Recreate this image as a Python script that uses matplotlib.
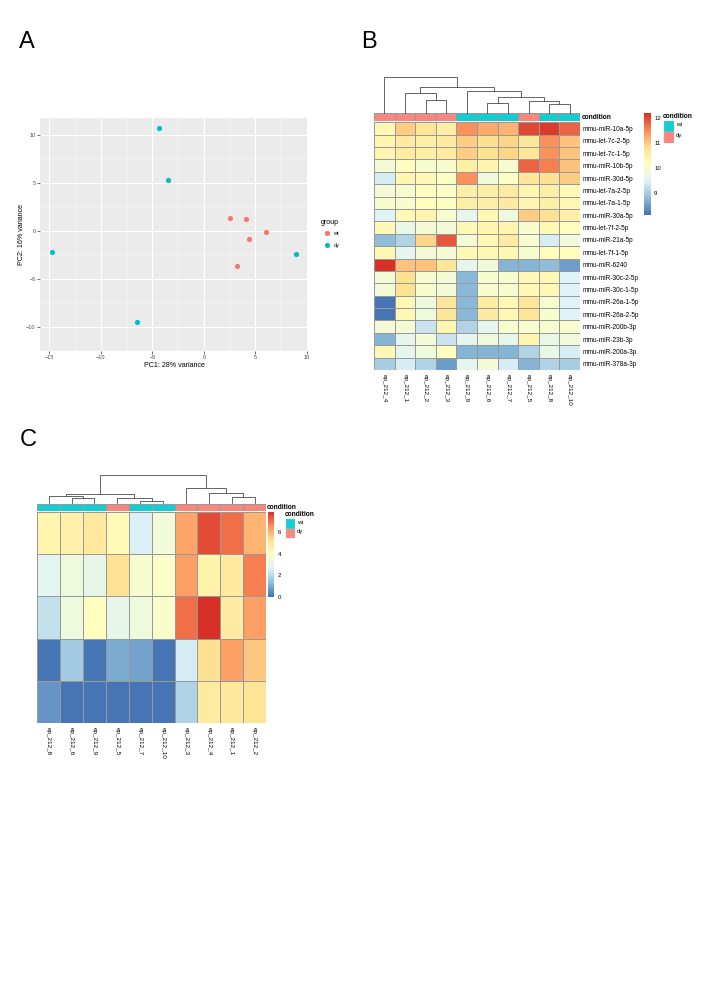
import numpy as np
import matplotlib
matplotlib.use('Agg')
import matplotlib.pyplot as plt
from matplotlib.colors import LinearSegmentedColormap, ListedColormap, Normalize
from matplotlib.patches import Rectangle
from matplotlib.lines import Line2D

plt.rcParams['font.family'] = ['Liberation Sans', 'DejaVu Sans']

# ---------------- data ----------------
# Panel A (PCA)
pc1_wt = [2.58, 4.13, 6.06, 4.42, 3.19]
pc2_wt = [1.31, 1.28, -0.16, -0.87, -3.62]
pc1_dy = [-14.73, -4.31, -3.51, 8.93, -6.48]
pc2_dy = [-2.24, 10.77, 5.36, -2.40, -9.52]
pca_xticks = [-15, -10, -5, 0, 5, 10]
pca_yticks = [-10, -5, 0, 5, 10]
pca_xlabel = 'PC1: 28% variance'
pca_ylabel = 'PC2: 16% variance'
group_labels = ['wt', 'dy']

# Panel B heatmap
b_cols = ['ep_212_4', 'ep_212_1', 'ep_212_2', 'ep_212_3', 'ep_212_9',
          'ep_212_6', 'ep_212_7', 'ep_212_5', 'ep_212_8', 'ep_212_10']
b_condition = ['dy', 'dy', 'dy', 'dy', 'wt', 'wt', 'wt', 'dy', 'wt', 'wt']
b_rows = ['mmu-miR-10a-5p', 'mmu-let-7c-2-5p', 'mmu-let-7c-1-5p', 'mmu-miR-10b-5p',
          'mmu-miR-30d-5p', 'mmu-let-7a-2-5p', 'mmu-let-7a-1-5p', 'mmu-miR-30a-5p',
          'mmu-let-7f-2-5p', 'mmu-miR-21a-5p', 'mmu-let-7f-1-5p', 'mmu-miR-6240',
          'mmu-miR-30c-2-5p', 'mmu-miR-30c-1-5p', 'mmu-miR-26a-1-5p', 'mmu-miR-26a-2-5p',
          'mmu-miR-200b-3p', 'mmu-miR-23b-3p', 'mmu-miR-200a-3p', 'mmu-miR-378a-3p']
b_values = [
    [10.3, 11.0, 10.7, 10.5, 11.5, 11.3, 11.2, 12.0, 12.1, 11.8],
    [10.4, 10.6, 10.5, 10.6, 11.0, 10.8, 10.9, 10.7, 11.5, 11.1],
    [10.4, 10.6, 10.5, 10.6, 11.0, 10.8, 10.9, 10.7, 11.5, 11.1],
    [9.9, 10.2, 10.0, 10.0, 10.5, 10.4, 10.0, 11.8, 11.6, 11.1],
    [9.4, 10.4, 10.3, 10.1, 11.5, 9.8, 10.1, 10.7, 10.8, 11.0],
    [9.9, 10.0, 10.2, 10.1, 10.5, 10.5, 10.6, 10.4, 10.5, 10.3],
    [10.0, 10.0, 10.2, 10.1, 10.5, 10.5, 10.6, 10.4, 10.5, 10.3],
    [9.5, 10.3, 10.4, 10.0, 9.6, 10.3, 9.8, 11.0, 10.8, 10.5],
    [10.3, 9.7, 9.9, 9.9, 10.3, 10.4, 10.4, 10.0, 10.3, 10.2],
    [8.8, 9.1, 10.9, 11.9, 9.9, 10.3, 10.6, 10.0, 9.4, 9.8],
    [10.3, 9.6, 9.9, 9.9, 10.3, 10.3, 10.3, 10.0, 10.2, 10.2],
    [12.2, 11.1, 11.1, 10.7, 9.6, 9.8, 8.7, 8.7, 8.8, 8.5],
    [9.9, 10.8, 10.0, 9.9, 8.75, 10.0, 10.0, 10.3, 10.3, 9.5],
    [9.9, 10.8, 10.0, 9.9, 8.75, 10.0, 10.0, 10.3, 10.3, 9.5],
    [8.13, 10.3, 9.8, 10.7, 8.75, 10.6, 10.3, 10.7, 10.0, 9.5],
    [8.13, 10.3, 9.8, 10.7, 8.75, 10.6, 10.3, 10.7, 10.0, 9.5],
    [9.9, 9.9, 9.3, 10.4, 9.1, 9.6, 10.0, 10.0, 10.0, 10.0],
    [8.7, 9.6, 9.9, 9.3, 9.6, 9.8, 9.6, 10.4, 9.7, 9.8],
    [10.3, 9.6, 9.8, 10.2, 8.7, 8.7, 8.7, 9.1, 9.7, 9.4],
    [9.0, 9.4, 9.1, 8.5, 9.6, 9.9, 9.4, 8.7, 9.1, 9.0],
]
b_cbar_ticks = [9, 10, 11, 12]
# column dendrogram merges: (child a, child b, height); leaves 0..9, clusters 10..
b_merges = [(8, 9, 25), (5, 6, 28), (7, 10, 33), (2, 3, 36), (11, 12, 46),
            (1, 13, 58), (4, 14, 65), (15, 16, 76), (0, 17, 106)]

# Panel C heatmap
c_cols = ['ep_212_8', 'ep_212_6', 'ep_212_9', 'ep_212_5', 'ep_212_7',
          'ep_212_10', 'ep_212_3', 'ep_212_4', 'ep_212_1', 'ep_212_2']
c_condition = ['wt', 'wt', 'wt', 'dy', 'wt', 'wt', 'dy', 'dy', 'dy', 'dy']
c_values = [
    [4.4, 4.6, 4.9, 4.2, 2.6, 3.4, 6.2, 7.5, 7.0, 6.0],
    [2.8, 3.3, 3.0, 5.2, 3.6, 3.8, 6.3, 4.5, 4.9, 6.8],
    [2.2, 3.3, 4.0, 3.0, 3.3, 3.7, 7.0, 7.94, 4.8, 6.3],
    [0.05, 1.6, 0.0, 1.0, 0.8, 0.0, 2.5, 5.2, 6.3, 5.7],
    [0.6, 0.0, 0.0, 0.0, 0.0, 0.0, 1.9, 4.8, 5.0, 5.1],
]
c_cbar_ticks = [0, 2, 4, 6]
c_merges = [(1, 2, 14), (4, 5, 7), (0, 10, 21), (3, 11, 16), (12, 13, 26),
            (8, 9, 19), (7, 15, 29), (6, 16, 44), (14, 17, 84)]

cond_colors = {'wt': '#14CDD3', 'dy': '#F8877F'}
heat_cmap = LinearSegmentedColormap.from_list(
    'rdylbu_r', ['#4575B4', '#91BFDB', '#E0F3F8', '#FFFFBF', '#FEE090', '#FC8D59', '#D73027'], N=100)

# ---------------- figure ----------------
W, H = 708, 1001
fig = plt.figure(figsize=(W / 100, H / 100), dpi=100)


def fx(x):
    return x / W


def fy(y):
    return 1 - y / H


def add_ax(x0, y0, x1, y1):
    return fig.add_axes([x0 / W, 1 - y1 / H, (x1 - x0) / W, (y1 - y0) / H])


def expand(vals):
    lo, hi = min(vals), max(vals)
    d = (hi - lo) * 0.05
    return lo - d, hi + d


# ---- Panel A ----
ax = add_ax(40, 118, 308, 350.7)
ax.set_facecolor('#EBEBEB')
ax.set_xlim(*expand(pc1_wt + pc1_dy))
ax.set_ylim(*expand(pc2_wt + pc2_dy))
ax.set_xticks(pca_xticks)
ax.set_yticks(pca_yticks)
ax.set_xticks([t + 2.5 for t in pca_xticks[:-1]], minor=True)
ax.set_yticks([t + 2.5 for t in pca_yticks[:-1]] + [pca_yticks[0] - 2.5], minor=True)
ax.grid(which='major', color='white', lw=0.75)
ax.grid(which='minor', color='white', lw=0.35)
ax.set_axisbelow(True)
for s in ax.spines.values():
    s.set_visible(False)
ax.tick_params(which='major', length=2, width=0.5, color='#333333', labelsize=4,
               labelcolor='#4D4D4D', pad=1.2)
ax.tick_params(which='minor', length=0)
ax.scatter(pc1_wt, pc2_wt, s=14, color='#F8766D', zorder=3, linewidths=0)
ax.scatter(pc1_dy, pc2_dy, s=14, color='#00BFC4', zorder=3, linewidths=0)
fig.text(fx(174), fy(365.7), pca_xlabel, fontsize=5.1, ha='center', va='center')
fig.text(fx(21.7), fy(234.3), pca_ylabel, fontsize=5.1, ha='center', va='center', rotation=90)
# legend
fig.text(fx(320.7), fy(223), 'group', fontsize=5.1, ha='left', va='center')
for lab, col, yy in zip(group_labels, ['#F8766D', '#00BFC4'], [233.3, 245]):
    fig.add_artist(Line2D([fx(326.7)], [fy(yy)], marker='o', color=col, markersize=3.7,
                          linestyle='none', markeredgewidth=0, transform=fig.transFigure))
    fig.text(fx(333.3), fy(yy), lab, fontsize=4.1, ha='left', va='center')


# ---- heatmap helper ----
def draw_dend(axd, merges, n):
    pos = {i: i + 0.5 for i in range(n)}
    hgt = {i: 0.0 for i in range(n)}
    for k, (a, b, h) in enumerate(merges):
        xa, xb = pos[a], pos[b]
        axd.plot([xa, xa, xb, xb], [hgt[a], h, h, hgt[b]], color='#3A3A3A', lw=0.55,
                 clip_on=False, solid_joinstyle='miter')
        pos[n + k] = (xa + xb) / 2
        hgt[n + k] = h
    axd.set_xlim(0, n)
    axd.set_ylim(0, max(m[2] for m in merges))
    axd.axis('off')


def heatmap(values, rows, cols, cond, merges, cbar_ticks, box):
    data = np.array(values)
    nr, nc = data.shape
    x0, x1, htop, hbot = box['heat']
    norm = Normalize(data.min(), data.max())
    axh = add_ax(x0, htop, x1, hbot)
    axh.pcolormesh(data, cmap=heat_cmap, norm=norm, edgecolors='#999999', linewidth=0.45)
    axh.set_xlim(0, nc)
    axh.set_ylim(nr, 0)
    for s in axh.spines.values():
        s.set_visible(False)
    axh.set_xticks(np.arange(nc) + 0.5)
    axh.set_xticklabels(cols, rotation=270, fontsize=4.6, ha='center', va='top')
    axh.tick_params(axis='x', length=0, pad=3)
    if rows:
        axh.yaxis.tick_right()
        axh.set_yticks(np.arange(nr) + 0.5)
        axh.set_yticklabels(rows, fontsize=4.7)
        axh.tick_params(axis='y', length=0, pad=2)
    else:
        axh.set_yticks([])
    # annotation bar
    a_top, a_bot = box['ann']
    axa = add_ax(x0, a_top, x1, a_bot)
    codes = np.array([[0 if c == 'wt' else 1 for c in cond]])
    axa.pcolormesh(codes, cmap=ListedColormap([cond_colors['wt'], cond_colors['dy']]),
                   vmin=0, vmax=1, edgecolors='#999999', linewidth=0.45)
    axa.set_xlim(0, nc)
    axa.set_ylim(0, 1)
    axa.axis('off')
    fig.text(fx(box['ann_label'][0]), fy(box['ann_label'][1]), 'condition', fontsize=4.8,
             fontweight='bold', ha='left', va='center')
    # dendrogram
    d_top, d_base = box['dend']
    axd = add_ax(x0, d_top, x1, d_base)
    draw_dend(axd, merges, nc)
    # colorbar
    cx0, cx1, ctop, cbot = box['cbar']
    axc = add_ax(cx0, ctop, cx1, cbot)
    grad = np.linspace(data.min(), data.max(), 256)[:, None]
    axc.imshow(grad, aspect='auto', cmap=heat_cmap, norm=norm, origin='lower',
               extent=(0, 1, data.min(), data.max()))
    axc.set_xticks([])
    axc.yaxis.tick_right()
    axc.set_yticks(cbar_ticks)
    axc.set_yticklabels([str(t) for t in cbar_ticks], fontsize=4.3)
    axc.tick_params(axis='y', length=0, pad=2.5)
    for s in axc.spines.values():
        s.set_visible(False)
    # condition legend
    lx, ly, bw, bh = box['leg']
    fig.text(fx(lx), fy(ly), 'condition', fontsize=4.8, fontweight='bold', ha='left', va='center')
    ytop = ly + 4.3
    for lab in ['wt', 'dy']:
        fig.add_artist(Rectangle((fx(lx + 0.5), fy(ytop + bh)), bw / W, bh / H,
                                 facecolor=cond_colors[lab], edgecolor='#BBBBBB', lw=0.3,
                                 transform=fig.transFigure))
        fig.text(fx(lx + bw + 3), fy(ytop + bh / 2 - 1.5), lab, fontsize=4.3, ha='left', va='center')
        ytop += bh


# ---- Panel B ----
heatmap(b_values, b_rows, b_cols, b_condition, b_merges, b_cbar_ticks, {
    'heat': (374, 580, 122.3, 370),
    'ann': (113.3, 120.7),
    'ann_label': (582, 117.3),
    'dend': (76.7, 112.6),
    'cbar': (644, 650.7, 113.3, 215),
    'leg': (663, 116.7, 10, 10.8),
})

# ---- Panel C ----
heatmap(c_values, None, c_cols, c_condition, c_merges, c_cbar_ticks, {
    'heat': (37.3, 266, 511.7, 723.3),
    'ann': (504.3, 510.7),
    'ann_label': (267, 507.3),
    'dend': (475, 503),
    'cbar': (268.3, 274, 511.7, 596.7),
    'leg': (285, 515, 9, 9.4),
})

# panel letters
fig.text(fx(27), fy(42), 'A', fontsize=17, ha='center', va='center')
fig.text(fx(369), fy(42), 'B', fontsize=17, ha='center', va='center')
fig.text(fx(28), fy(440), 'C', fontsize=17, ha='center', va='center')

fig.savefig('out.png', dpi=100)
